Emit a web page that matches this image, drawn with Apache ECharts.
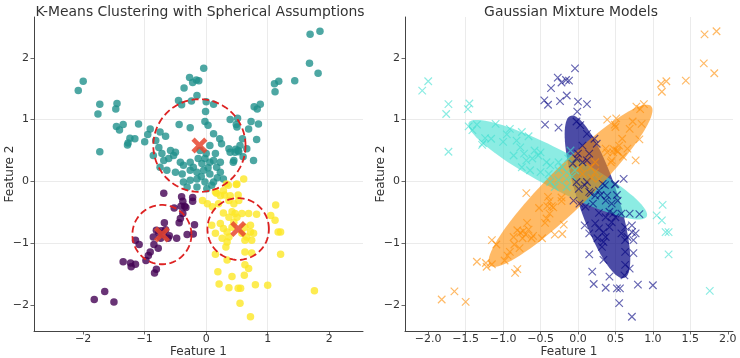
<!DOCTYPE html>
<html>
<head>
<meta charset="utf-8">
<script src="https://cdn.jsdelivr.net/npm/echarts@6/dist/echarts.min.js"></script>
<style>
  html, body { margin: 0; padding: 0; background: #fff; }
  #chart { width: 740px; height: 358px; }
</style>
</head>
<body>
<div id="chart"></div>
<script>
// points: [feature1, feature2, gmm component]
// gmm component: 0 turquoise, 1 navy, 2 darkorange
var purplePoints = [
  [-0.69,-0.19,2],[-0.40,-0.25,2],[-0.38,-0.32,2],[-0.35,-0.40,2],[-0.33,-0.42,2],[-0.41,-0.40,2],
  [-0.22,-0.26,2],[-0.22,-0.32,2],[-0.52,-0.43,2],[-0.38,-0.52,2],[-0.42,-0.60,2],[-0.44,-0.67,2],
  [-0.19,-0.70,2],[-0.21,-0.85,2],[-0.31,-0.86,2],[-0.68,-0.67,2],[-0.81,-0.79,2],[-0.77,-0.83,2],
  [-0.70,-0.86,2],[-0.73,-0.80,2],[-0.66,-0.78,2],[-0.60,-0.88,2],[-0.86,-0.90,2],[-0.74,-0.92,2],
  [-0.62,-0.92,2],[-0.48,-0.92,2],[-0.85,-1.02,2],[-0.78,-1.08,2],[-0.91,-1.14,2],[-0.94,-1.20,2],
  [-0.98,-1.28,2],[-1.15,-0.95,2],[-1.09,-1.02,2],[-1.35,-1.30,2],[-1.23,-1.32,2],[-1.22,-1.38,2],
  [-1.15,-1.34,2],[-0.81,-1.42,2],[-0.84,-1.48,2],[-1.65,-1.78,2],[-1.82,-1.91,2],[-1.50,-1.95,2]
];
var tealPoints = [
  [-2.08,1.47,0],[-2.00,1.62,0],[-1.73,1.25,0],[-1.76,1.09,0],[-1.45,1.26,0],[-1.47,1.17,0],
  [-1.73,0.48,0],[-1.46,0.89,0],[-1.41,0.83,0],[-1.35,0.92,0],[-1.10,0.93,0],[-1.24,0.70,0],
  [-1.27,0.62,0],[-1.28,0.59,0],[-1.16,0.69,0],[-1.00,0.64,0],[-0.95,0.76,0],[-0.91,0.85,0],
  [-0.82,0.66,0],[-0.75,0.80,0],[-0.66,0.73,0],[-0.77,0.55,0],[-0.86,0.42,0],[-0.72,0.45,0],
  [-0.58,0.50,0],[-0.53,0.42,0],[-0.50,0.47,0],[-0.61,0.37,0],[-0.69,0.34,0],[-0.42,0.31,0],
  [-0.37,0.26,0],[-0.26,0.31,0],[-0.21,0.23,0],[-0.13,0.37,0],[-0.75,0.23,0],[-0.64,0.18,0],
  [-0.50,0.15,0],[-0.39,0.12,0],[-0.26,0.18,0],[-0.15,0.15,0],[-0.04,0.18,0],[-0.37,-0.01,0],
  [-0.26,0.02,0],[-0.15,0.04,0],[-0.31,-0.09,0],[-0.15,-0.09,0],[-0.08,0.08,0],[-0.10,0.50,0],
  [-0.44,0.92,1],[-0.26,0.87,1],[-0.45,1.31,1],[-0.40,1.24,1],[-0.36,1.51,1],[-0.27,1.68,1],
  [-0.24,1.30,1],[-0.22,1.60,1],[-0.16,1.64,1],[-0.04,1.83,1],[-0.12,1.63,1],[-0.15,1.39,1],
  [0.00,1.29,1],[0.12,1.25,1],[-0.01,1.13,1],[-0.02,0.97,1],[0.03,0.91,1],[0.12,0.77,1],
  [0.22,0.69,1],[0.25,0.61,1],[0.06,0.58,1],[0.06,0.31,1],[0.12,0.34,1],[-0.02,0.37,1],
  [-0.07,0.29,1],[-0.02,-0.01,1],[0.12,-0.01,1],[0.01,-0.12,1],[0.09,-0.06,1],[0.00,0.45,1],
  [0.15,0.45,1],
  [0.39,1.00,2],[0.51,1.02,2],[0.49,0.92,2],[0.50,0.88,2],[0.59,0.69,2],[0.69,0.85,2],
  [0.73,0.97,2],[0.78,1.21,2],[0.83,1.17,2],[0.88,1.25,2],[0.85,0.93,2],[0.82,0.68,2],
  [0.77,0.34,2],[0.60,0.40,2],[0.45,0.34,2],[1.11,1.58,2],[1.18,1.62,2],[1.12,1.45,2],
  [1.44,1.63,2],[1.68,1.91,2],[1.82,1.75,2],[1.69,2.38,2],[1.85,2.43,2],[0.37,0.53,2],
  [0.48,0.52,2],[0.53,0.48,2],[0.55,0.58,2],[0.66,0.53,2],[0.39,0.47,2],[0.47,0.47,2],
  [0.52,0.50,2],[0.44,0.31,2],[0.23,0.31,2],[0.17,0.23,2],[0.06,0.12,2],[0.23,0.15,2],
  [0.28,0.04,2],[0.18,0.06,2],[0.03,0.22,2]
];
var yellowPoints = [
  [0.61,0.04,1],[0.49,-0.05,1],[0.33,-0.04,1],[0.17,-0.19,1],[0.30,-0.22,1],[-0.06,-0.31,1],
  [0.02,-0.36,1],[0.10,-0.41,1],[0.20,-0.36,1],[0.37,-0.31,1],[0.45,-0.36,1],[0.53,-0.31,1],
  [0.52,-0.22,1],[0.28,-0.51,1],[0.42,-0.49,1],[0.47,-0.52,1],[0.58,-0.52,1],[0.69,-0.52,1],
  [0.82,-0.53,1],[0.09,-0.71,1],[0.23,-0.68,1],[0.28,-0.76,1],[0.34,-0.82,1],[0.37,-0.90,1],
  [0.26,-0.92,1],[0.15,-0.84,1],[0.63,-0.74,1],[0.77,-0.84,1],[0.74,-0.95,1],[0.72,-0.82,1],
  [0.42,-0.74,1],[0.58,-0.84,1],[0.66,-0.90,1],[0.45,-0.66,1],[0.50,-0.58,1],[0.37,-0.58,1],
  [0.72,-0.71,1],[0.63,-0.95,1],[0.34,-0.98,1],[0.32,-1.06,1],[0.15,-1.18,1],[0.63,-1.14,1],
  [0.74,-1.16,1],[0.34,-1.27,1],[0.63,-1.35,1],[0.69,-1.41,1],[0.19,-1.46,1],[0.42,-1.54,1],
  [0.62,-1.52,1],[0.21,-1.66,1],[0.37,-1.72,1],[0.52,-1.73,1],[0.56,-1.73,1],[0.80,-1.67,1],
  [1.00,-1.68,1],[0.55,-1.97,1],[0.72,-2.19,1],[0.15,-0.17,1],[0.28,-0.15,1],[0.36,-0.06,1],
  [0.50,-0.04,1],[0.23,-0.23,1],[0.39,-0.23,1],
  [1.13,-0.38,0],[1.05,-0.55,0],[1.12,-0.63,0],[1.17,-0.82,0],[1.21,-0.82,0],[1.21,-1.18,0],
  [1.76,-1.77,0]
];

// k-means centres and the radius of each dashed circle
var kmCenters = [[-0.72, -0.86], [-0.11, 0.58], [0.52, -0.77]];
var kmRadius = [0.48, 0.75, 0.50];

// gmm ellipses by component: [cx, cy, semi-major, semi-minor, angle deg]
var gmmEllipses = [
  [-0.27, 0.19, 1.41, 0.29, -33],
  [0.26, -0.25, 1.36, 0.27, -75],
  [-0.10, -0.07, 1.68, 0.31, 50.5]
];

var xTicksLeft = [-2, -1, 0, 1, 2];
var xTicksRight = [-2, -1.5, -1, -0.5, 0, 0.5, 1, 1.5, 2];
var yTicks = [-2, -1, 0, 1, 2];

var kmColors = ['#440154', '#21918c', '#fde725'];
var gmmColors = ['#40e0d0', '#000080', '#ff8c00'];
var gmmFill = [0.6, 0.7, 0.6];
var gmmOrder = [1, 0, 2]; // navy, turquoise, darkorange

var font = 'DejaVu Sans';
var minus = function (s) { return String(s).replace('-', '\u2212'); };

var chart = echarts.init(document.getElementById('chart'), null, { renderer: 'canvas' });

var axisCommon = {
  type: 'value',
  axisLine: { show: true, onZero: false, lineStyle: { color: '#444', width: 1 } },
  axisTick: { show: true, length: 3.5, lineStyle: { color: '#444', width: 0.8 } },
  splitLine: { show: true, showMinLine: false, showMaxLine: false, lineStyle: { color: '#e6e6e6', width: 0.8 } },
  nameLocation: 'middle',
  nameMoveOverlap: false,
  nameTextStyle: { fontFamily: font, fontSize: 12, color: '#333' }
};

function xAxis(gridIndex, min, max, ticks, fmt) {
  return echarts.util.merge({
    gridIndex: gridIndex, min: min, max: max, name: 'Feature 1', nameGap: 15,
    axisTick: { customValues: ticks },
    axisLabel: { customValues: ticks, formatter: fmt, margin: 3, fontFamily: font, fontSize: 11, color: '#333' }
  }, axisCommon);
}
function yAxis(gridIndex, gap) {
  return echarts.util.merge({
    gridIndex: gridIndex, min: -2.42, max: 2.66, name: 'Feature 2', nameGap: gap,
    axisTick: { customValues: yTicks },
    axisLabel: { customValues: yTicks, formatter: function (v) { return minus(v); }, margin: 5, fontFamily: font, fontSize: 11, color: '#333' }
  }, axisCommon);
}

function ellipseItem(params, api) {
  var cx = api.value(0), cy = api.value(1), a = api.value(2), b = api.value(3);
  var th = api.value(4) * Math.PI / 180;
  var pts = [];
  for (var i = 0; i < 90; i++) {
    var t = i / 90 * Math.PI * 2;
    var dx = a * Math.cos(t) * Math.cos(th) - b * Math.sin(t) * Math.sin(th);
    var dy = a * Math.cos(t) * Math.sin(th) + b * Math.sin(t) * Math.cos(th);
    pts.push(api.coord([cx + dx, cy + dy]));
  }
  return pts;
}

var crossPath = 'path://M0,0L10,10M10,0L0,10';
var xMarkPath = 'path://M-10,-6L-6,-10L0,-4L6,-10L10,-6L4,0L10,6L6,10L0,4L-6,10L-10,6L-4,0Z';

var series = [];

// left: k-means points
[purplePoints, tealPoints, yellowPoints].forEach(function (pts, k) {
  series.push({
    type: 'scatter', xAxisIndex: 0, yAxisIndex: 0,
    data: pts.map(function (p) { return [p[0], p[1]]; }),
    symbol: 'circle', symbolSize: 7.5,
    itemStyle: { color: kmColors[k], opacity: 0.8 },
    silent: true, animation: false
  });
});

// dashed circles round the centres
series.push({
  type: 'custom', xAxisIndex: 0, yAxisIndex: 0,
  data: kmCenters.map(function (c, i) { return [c[0], c[1], kmRadius[i], kmRadius[i], 0]; }),
  renderItem: function (params, api) {
    return {
      type: 'polygon',
      shape: { points: ellipseItem(params, api) },
      style: { fill: 'none', stroke: '#dd2222', lineWidth: 1.8, lineDash: [7, 3.5] }
    };
  },
  silent: true, animation: false, z: 3
});

series.push({
  type: 'scatter', xAxisIndex: 0, yAxisIndex: 0,
  data: kmCenters,
  symbol: xMarkPath, symbolSize: 16,
  itemStyle: { color: '#e8452f', opacity: 0.85 },
  silent: true, animation: false, z: 4
});

// right: gmm points then ellipse, component by component
var allPoints = purplePoints.concat(tealPoints, yellowPoints);
gmmOrder.forEach(function (g) {
  series.push({
    type: 'scatter', xAxisIndex: 1, yAxisIndex: 1,
    data: allPoints.filter(function (p) { return p[2] === g; }).map(function (p) { return [p[0], p[1]]; }),
    symbol: crossPath, symbolSize: 7.5,
    itemStyle: { color: 'transparent', borderColor: gmmColors[g], borderWidth: 1.2, opacity: 0.6 },
    silent: true, animation: false
  });
  series.push({
    type: 'custom', xAxisIndex: 1, yAxisIndex: 1,
    data: [gmmEllipses[g]],
    renderItem: function (params, api) {
      return {
        type: 'polygon',
        shape: { points: ellipseItem(params, api) },
        style: { fill: gmmColors[g], opacity: gmmFill[g] }
      };
    },
    silent: true, animation: false
  });
});

chart.setOption({
  animation: false,
  title: [
    { text: 'K-Means Clustering with Spherical Assumptions', left: 195, top: 0, textAlign: 'center',
      textStyle: { fontFamily: font, fontSize: 13.9, fontWeight: 'normal', color: '#333' } },
    { text: 'Gaussian Mixture Models', left: 566, top: 0, textAlign: 'center',
      textStyle: { fontFamily: font, fontSize: 13.9, fontWeight: 'normal', color: '#333' } }
  ],
  grid: [
    { left: 34, top: 17, width: 329, height: 314, outerBoundsMode: 'none', containLabel: false },
    { left: 405, top: 17, width: 328, height: 314, outerBoundsMode: 'none', containLabel: false }
  ],
  xAxis: [
    xAxis(0, -2.8, 2.55, xTicksLeft, function (v) { return minus(v); }),
    xAxis(1, -2.31, 2.07, xTicksRight, function (v) { return minus(v.toFixed(1)); })
  ],
  yAxis: [yAxis(0, 18), yAxis(1, 18)],
  series: series
});
</script>
</body>
</html>
